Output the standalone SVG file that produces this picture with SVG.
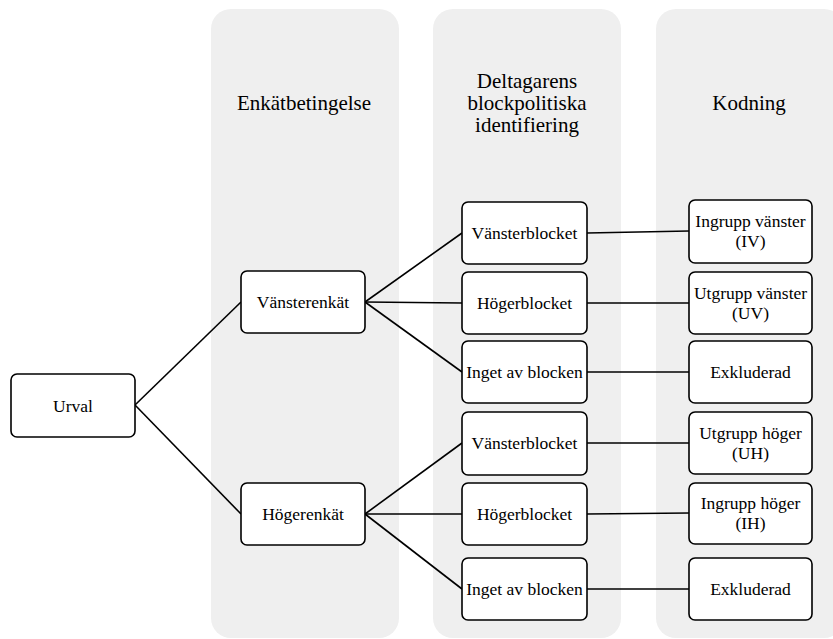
<svg xmlns="http://www.w3.org/2000/svg" width="833" height="639" viewBox="0 0 833 639">
<style>
.panel{fill:#efefef;stroke:none}
.node rect{fill:#fff;stroke:#000;stroke-width:1.6}
#connectors line{stroke:#000;stroke-width:1.6}
</style>
<rect fill="#fff" width="833" height="639"/>
<g id="panels">
<rect class="panel" x="211" y="9" width="188" height="629" rx="20"/>
<rect class="panel" x="433" y="9" width="188" height="629" rx="20"/>
<rect class="panel" x="656" y="9" width="188" height="629" rx="20"/>
</g>
<g id="headers" font-family="Liberation Serif" font-size="21" text-anchor="middle" fill="#000">
<text style="font-family:'Liberation Serif',serif" x="304" y="110">Enkätbetingelse</text>
<text style="font-family:'Liberation Serif',serif" x="527" y="88">Deltagarens</text>
<text style="font-family:'Liberation Serif',serif" x="527" y="110">blockpolitiska</text>
<text style="font-family:'Liberation Serif',serif" x="527" y="132">identifiering</text>
<text style="font-family:'Liberation Serif',serif" x="749" y="110">Kodning</text>
</g>
<g id="connectors">
<line x1="135" y1="405" x2="241" y2="302"/>
<line x1="135" y1="405" x2="241" y2="514"/>
<line x1="365" y1="302" x2="462" y2="233"/>
<line x1="365" y1="302" x2="462" y2="303"/>
<line x1="365" y1="302" x2="462" y2="372"/>
<line x1="365" y1="514" x2="462" y2="443"/>
<line x1="365" y1="514" x2="462" y2="514"/>
<line x1="365" y1="514" x2="462" y2="589"/>
<line x1="587" y1="233" x2="689" y2="231"/>
<line x1="587" y1="303" x2="689" y2="303"/>
<line x1="587" y1="372" x2="689" y2="372"/>
<line x1="587" y1="443" x2="689" y2="443"/>
<line x1="587" y1="514" x2="689" y2="513"/>
<line x1="587" y1="589" x2="689" y2="589"/>
</g>
<g id="nodes" font-family="Liberation Serif" font-size="17.5" text-anchor="middle" fill="#000">
<g id="urval" class="node"><rect x="11" y="374" width="124" height="63" rx="6"/><text style="font-family:'Liberation Serif',serif" x="73" y="412">Urval</text></g>
<g id="vansterenkat" class="node"><rect x="241" y="271" width="124" height="62" rx="6"/><text style="font-family:'Liberation Serif',serif" x="303" y="308">Vänsterenkät</text></g>
<g id="hogerenkat" class="node"><rect x="241" y="483" width="124" height="62" rx="6"/><text style="font-family:'Liberation Serif',serif" x="303" y="520">Högerenkät</text></g>
<g id="v-vansterblocket" class="node"><rect x="462" y="202" width="125" height="62" rx="6"/><text style="font-family:'Liberation Serif',serif" x="524.5" y="239">Vänsterblocket</text></g>
<g id="v-hogerblocket" class="node"><rect x="462" y="272" width="125" height="62" rx="6"/><text style="font-family:'Liberation Serif',serif" x="524.5" y="309">Högerblocket</text></g>
<g id="v-inget" class="node"><rect x="462" y="341" width="125" height="62" rx="6"/><text style="font-family:'Liberation Serif',serif" x="524.5" y="378">Inget av blocken</text></g>
<g id="h-vansterblocket" class="node"><rect x="462" y="412" width="125" height="63" rx="6"/><text style="font-family:'Liberation Serif',serif" x="524.5" y="449">Vänsterblocket</text></g>
<g id="h-hogerblocket" class="node"><rect x="462" y="483" width="125" height="62" rx="6"/><text style="font-family:'Liberation Serif',serif" x="524.5" y="520">Högerblocket</text></g>
<g id="h-inget" class="node"><rect x="462" y="558" width="125" height="62" rx="6"/><text style="font-family:'Liberation Serif',serif" x="524.5" y="595">Inget av blocken</text></g>
<g id="iv" class="node"><rect x="689" y="200" width="123" height="63" rx="6"/><text style="font-family:'Liberation Serif',serif" x="750.5" y="227">Ingrupp vänster</text><text style="font-family:'Liberation Serif',serif" x="750.5" y="247">(IV)</text></g>
<g id="uv" class="node"><rect x="689" y="272" width="123" height="62" rx="6"/><text style="font-family:'Liberation Serif',serif" x="750.5" y="299">Utgrupp vänster</text><text style="font-family:'Liberation Serif',serif" x="750.5" y="319">(UV)</text></g>
<g id="exkl1" class="node"><rect x="689" y="341" width="123" height="62" rx="6"/><text style="font-family:'Liberation Serif',serif" x="750.5" y="378">Exkluderad</text></g>
<g id="uh" class="node"><rect x="689" y="412" width="123" height="62" rx="6"/><text style="font-family:'Liberation Serif',serif" x="750.5" y="439">Utgrupp höger</text><text style="font-family:'Liberation Serif',serif" x="750.5" y="459">(UH)</text></g>
<g id="ih" class="node"><rect x="689" y="483" width="123" height="61" rx="6"/><text style="font-family:'Liberation Serif',serif" x="750.5" y="509">Ingrupp höger</text><text style="font-family:'Liberation Serif',serif" x="750.5" y="529">(IH)</text></g>
<g id="exkl2" class="node"><rect x="689" y="558" width="123" height="62" rx="6"/><text style="font-family:'Liberation Serif',serif" x="750.5" y="595">Exkluderad</text></g>
</g>
</svg>
